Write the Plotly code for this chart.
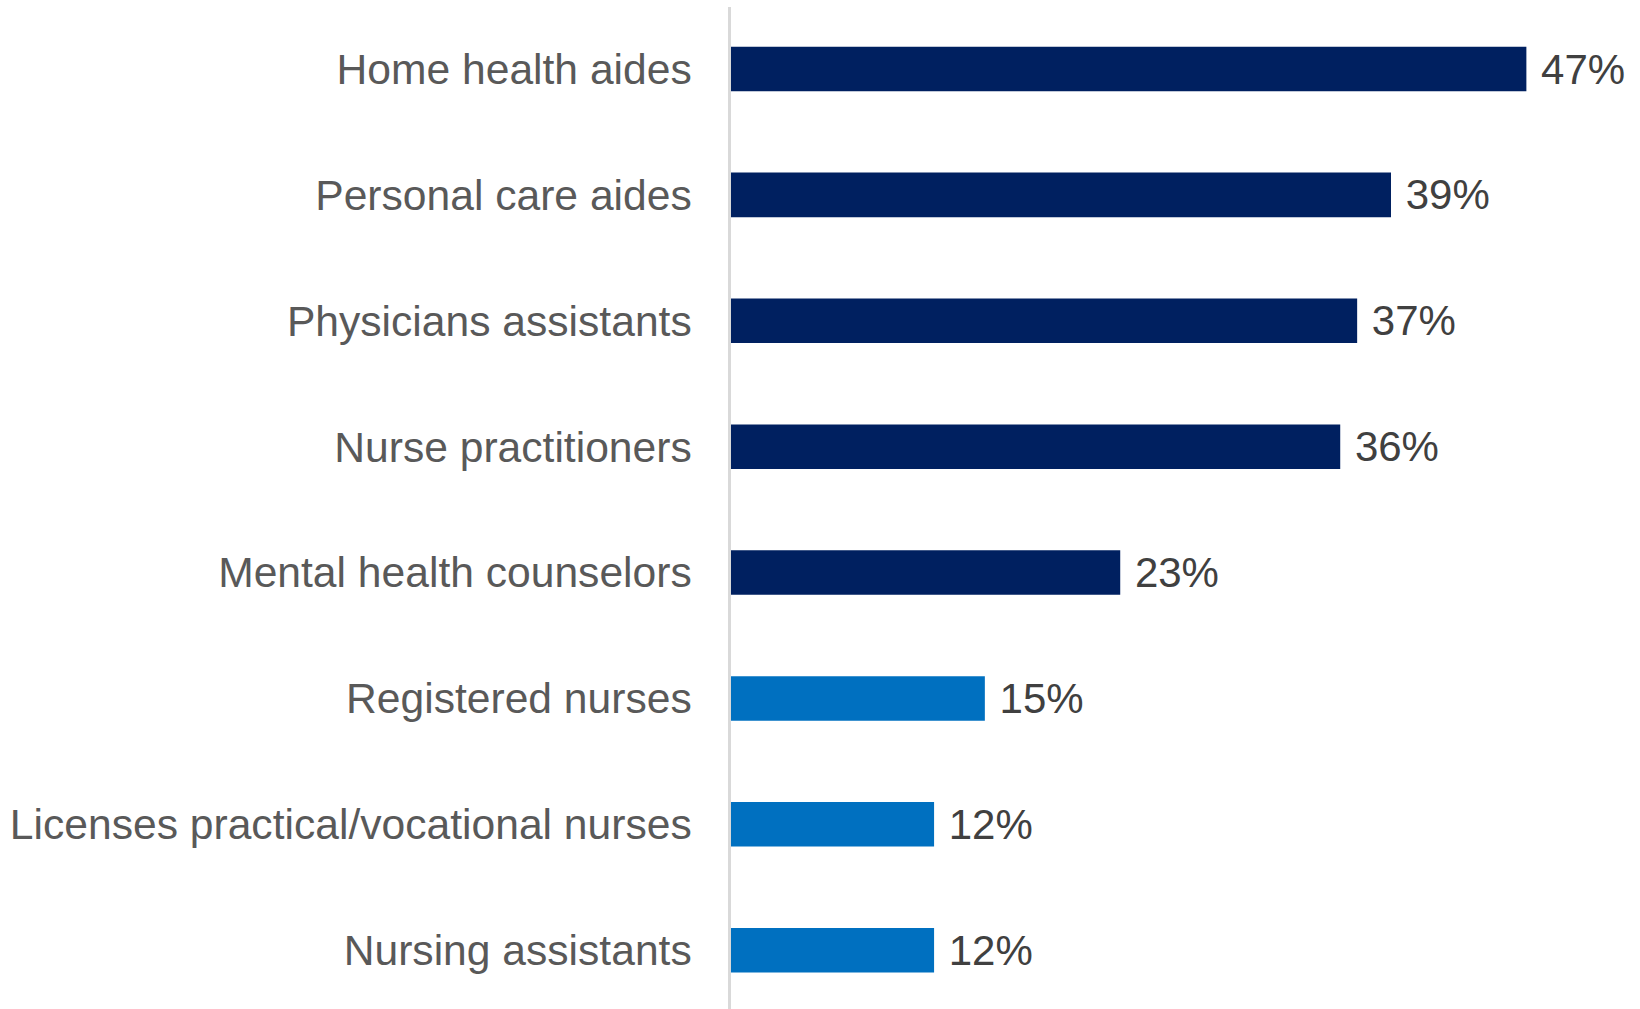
import plotly.graph_objects as go

categories = [
    "Home health aides",
    "Personal care aides",
    "Physicians assistants",
    "Nurse practitioners",
    "Mental health counselors",
    "Registered nurses",
    "Licenses practical/vocational nurses",
    "Nursing assistants",
]
values = [47, 39, 37, 36, 23, 15, 12, 12]
colors = ["#002060"] * 5 + ["#0070C0"] * 3
value_labels = [f" {v}%" for v in values]

fig = go.Figure(
    go.Bar(
        x=values,
        y=categories,
        orientation="h",
        marker=dict(color=colors, line=dict(width=0)),
        text=value_labels,
        textposition="outside",
        constraintext="none",
        textfont=dict(family="Liberation Sans, Arial, sans-serif", size=42, color="#404040"),
        cliponaxis=False,
        width=0.354,
        hoverinfo="skip",
    )
)

fig.update_layout(
    width=1640,
    height=1009,
    margin=dict(l=731, r=29, t=7, b=0),
    paper_bgcolor="white",
    plot_bgcolor="white",
    showlegend=False,
    font=dict(family="Liberation Sans, Arial, sans-serif"),
)
fig.update_xaxes(
    range=[0, 52],
    visible=False,
    showgrid=False,
    zeroline=False,
)
fig.update_yaxes(
    categoryorder="array",
    categoryarray=categories,
    range=[7.467, -0.4925],
    showgrid=False,
    zeroline=False,
    showline=True,
    linecolor="#d9d9d9",
    linewidth=2.5,
    ticks="",
    ticklabelstandoff=28,
    tickfont=dict(family="Liberation Sans, Arial, sans-serif", size=42.6, color="#595959"),
)

fig.write_html("out.html")
